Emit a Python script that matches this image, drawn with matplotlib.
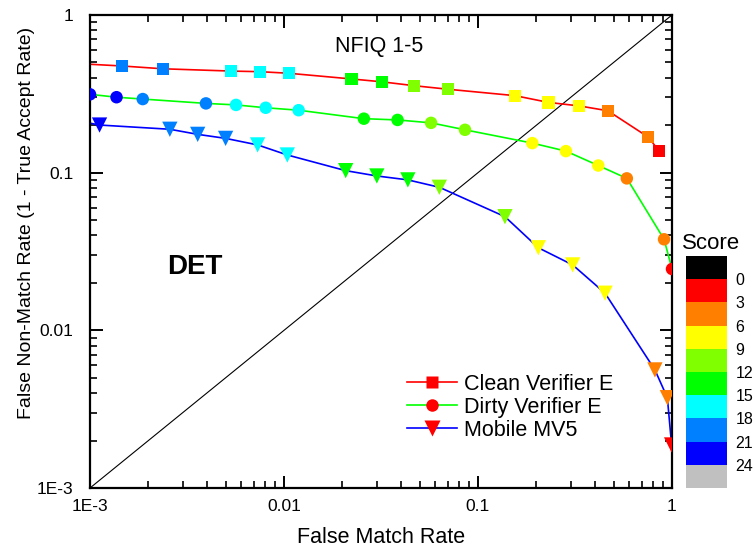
import numpy as np
import matplotlib
matplotlib.use("Agg")
import matplotlib.pyplot as plt
from matplotlib.colors import ListedColormap, BoundaryNorm
from matplotlib.lines import Line2D
import matplotlib.colorbar as mcolorbar

plt.rcParams['font.family'] = ['Liberation Sans', 'DejaVu Sans']

# ---- data ----
nan = np.nan
clean_fmr = [0.001, 0.00146, 0.00237, 0.00531, 0.00752, 0.0106, 0.0223, 0.0319, 0.0470,
             0.0703, 0.155, 0.231, 0.333, 0.467, 0.755, 0.859]
clean_fnmr = [0.487, 0.475, 0.456, 0.441, 0.437, 0.427, 0.393, 0.377, 0.356,
              0.338, 0.308, 0.279, 0.265, 0.247, 0.168, 0.137]
clean_score = [nan, 19.5, 19.5, 16.5, 16.5, 16.5, 13.5, 13.5, 10.5,
               10.5, 7.5, 7.5, 7.5, 4.5, 4.5, 1.5]

dirty_fmr = [0.001, 0.00137, 0.00187, 0.00396, 0.00566, 0.00805, 0.0119, 0.0258, 0.0385,
             0.0573, 0.0857, 0.1905, 0.284, 0.417, 0.585, 0.910, 1.0]
dirty_fnmr = [0.314, 0.301, 0.293, 0.275, 0.269, 0.258, 0.249, 0.220, 0.216,
              0.207, 0.187, 0.154, 0.137, 0.111, 0.092, 0.0378, 0.0245]
dirty_score = [22.5, 22.5, 19.5, 19.5, 16.5, 16.5, 16.5, 13.5, 13.5,
               10.5, 10.5, 7.5, 7.5, 7.5, 4.5, 4.5, 1.5]

mobile_fmr = [0.001, 0.00112, 0.00258, 0.00359, 0.0050, 0.00731, 0.0104, 0.0208, 0.0301,
              0.0435, 0.0632, 0.1377, 0.2046, 0.3076, 0.4519, 0.8166, 0.9462, 0.9954]
mobile_fnmr = [0.206, 0.2005, 0.1885, 0.175, 0.165, 0.150, 0.1295, 0.103, 0.0953,
               0.090, 0.0808, 0.0526, 0.0334, 0.026, 0.0172, 0.00561, 0.00374, 0.001875]
mobile_score = [nan, 22.5, 19.5, 19.5, 19.5, 16.5, 16.5, 13.5, 13.5,
                13.5, 10.5, 10.5, 7.5, 7.5, 7.5, 4.5, 4.5, 1.5]

series_names = ["Clean Verifier E", "Dirty Verifier E", "Mobile MV5"]
score_colors = ['#000000', '#FF0000', '#FF8000', '#FFFF00', '#80FF00',
                '#00FF00', '#00FFFF', '#0080FF', '#0000FF', '#C0C0C0']
score_bounds = list(range(-3, 28, 3))
score_ticks = list(range(0, 25, 3))
x_ticks = [1e-3, 1e-2, 1e-1, 1]
x_ticklabels = ["1E-3", "0.01", "0.1", "1"]
y_ticks = [1e-3, 1e-2, 1e-1, 1]
y_ticklabels = ["1E-3", "0.01", "0.1", "1"]

cmap = ListedColormap(score_colors)
norm = BoundaryNorm(score_bounds, cmap.N)

W, H = 755, 555
fig = plt.figure(figsize=(W / 100, H / 100), dpi=100)
ax = fig.add_axes([90 / W, 1 - 488 / H, (672 - 90) / W, (488 - 15) / H])

ax.set_xscale('log')
ax.set_yscale('log')
ax.set_xlim(1e-3, 1)
ax.set_ylim(1e-3, 1)

# diagonal reference
ax.plot([1e-3, 1], [1e-3, 1], color='black', lw=0.8, zorder=1)

series = [
    (clean_fmr, clean_fnmr, clean_score, '#FF0000', 's', 8.8),
    (dirty_fmr, dirty_fnmr, dirty_score, '#00FF00', 'o', 9.0),
    (mobile_fmr, mobile_fnmr, mobile_score, '#0000FF', 'v', 11.0),
]
handles = []
for (fx, fy, sc, col, mk, ms), name in zip(series, series_names):
    fx = np.array(fx); fy = np.array(fy); sc = np.array(sc)
    ax.plot(fx, fy, color=col, lw=1.2, zorder=2)
    m = ~np.isnan(sc)
    ax.scatter(fx[m], fy[m], c=sc[m], cmap=cmap, norm=norm, marker=mk,
               s=ms ** 2, edgecolors='none', zorder=3)
    handles.append(Line2D([], [], color=col, lw=1.2, marker=mk, ms=ms,
                          mfc='#FF0000', mec='none', label=name))

ax.set_xticks(x_ticks)
ax.set_xticklabels(x_ticklabels)
ax.set_yticks(y_ticks)
ax.set_yticklabels(y_ticklabels)
ax.tick_params(which='both', direction='in', top=True, right=True)
ax.tick_params(which='major', length=9, width=1.4, labelsize=12.5)
ax.tick_params(which='minor', length=5, width=1.2)
ax.tick_params(axis='x', which='major', pad=8)
ax.tick_params(axis='y', which='major', pad=12)
for s in ax.spines.values():
    s.set_linewidth(1.6)

ax.set_xlabel("False Match Rate", fontsize=15.5)
ax.xaxis.set_label_coords(0.5, -0.083)
ax.set_ylabel("False Non-Match Rate (1 - True Accept Rate)", fontsize=14)
ax.yaxis.set_label_coords(-0.094, 0.56)

ax.text(0.421, 0.922, "NFIQ 1-5", transform=ax.transAxes, fontsize=15.5,
        ha='left', va='baseline')
ax.text(0.132, 0.452, "DET", transform=ax.transAxes, fontsize=20,
        fontweight='bold', ha='left', va='baseline')

leg = ax.legend(handles=handles, loc='upper left', bbox_to_anchor=(0.5447, 0.242),
                frameon=False, fontsize=15.5, borderpad=0, borderaxespad=0,
                handlelength=2.33, handletextpad=0.3, labelspacing=0.1)

# colorbar
cax = fig.add_axes([686 / W, 1 - 488 / H, 41 / W, (488 - 256) / H])
cb = mcolorbar.ColorbarBase(cax, cmap=cmap, norm=norm, boundaries=score_bounds,
                            ticks=score_ticks, orientation='vertical')
cax.invert_yaxis()
cb.outline.set_visible(False)
cax.minorticks_off()
cax.tick_params(which='both', length=0, labelsize=11.5, pad=6)
fig.text(711 / W, 1 - 249 / H, "Score", fontsize=16, ha='center', va='baseline')

fig.savefig("out.png", dpi=100)
